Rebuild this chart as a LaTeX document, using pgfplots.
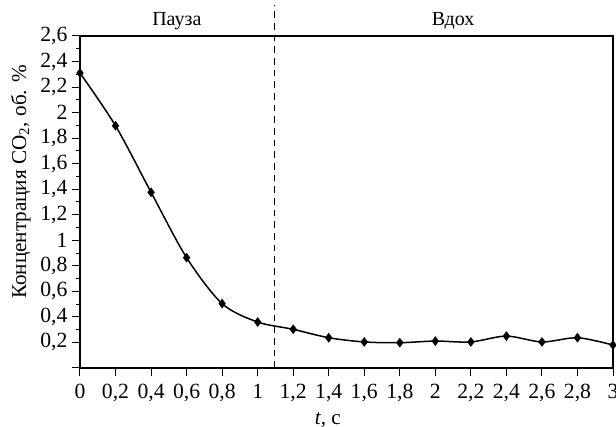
\documentclass[border=0pt]{standalone}
\usepackage{pgfplots}
\pgfplotsset{compat=1.18}
\usepackage{fontspec}
\setmainfont{Liberation Serif}
\begin{document}
\begin{tikzpicture}
\useasboundingbox (0pt,0pt) rectangle (369.6pt,-256.2pt);
\begin{axis}[
  at={(48pt,-220.8pt)}, anchor=south west,
  scale only axis, width=319.8pt, height=199.2pt,
  xmin=0, xmax=3, ymin=0, ymax=2.6,
  clip=false,
  axis line style={line width=0.7pt},
  xtick={0,0.2,...,3.01},
  ytick={0.2,0.4,...,2.61},
  extra y ticks={0}, extra y tick labels={},
  minor y tick num=1,
  tick align=outside,
  xtick pos=bottom, ytick pos=left,
  major tick length=5pt, minor tick length=2.5pt,
  tick style={line width=0.6pt, black},
  /pgf/number format/use comma,
  /pgf/number format/assume math mode=true,
  tick label style={font=\fontsize{13}{14}\selectfont},
  yticklabel style={xshift=1pt},
  xticklabel style={yshift=-1pt},
  label style={font=\fontsize{12.7}{14}\selectfont},
  xlabel={\textit{t}, с},
  xlabel style={at={(axis description cs:0.465,0)}, anchor=center, yshift=-31.2pt},
  ylabel={Концентрация CO\textsubscript{2}, об. \%},
  ylabel style={at={(axis description cs:-0.111,0.56)}, anchor=center},
]
\addplot[line width=0.9pt, black, smooth, tension=0.5, mark=diamond*, mark size=2.2pt, mark options={solid}]
coordinates {
(0,2.31) (0.2,1.897) (0.4,1.376) (0.6,0.864) (0.8,0.504) (1.0,0.36) (1.2,0.303)
(1.4,0.237) (1.6,0.204) (1.8,0.198) (2.0,0.211) (2.2,0.204) (2.4,0.25)
(2.6,0.204) (2.8,0.237) (3.0,0.18)};
\draw[dashed, line width=0.6pt, dash pattern=on 4pt off 3pt] (axis cs:1.095,0) -- (axis cs:1.095,2.84);
\node[font=\fontsize{12}{13}\selectfont] at (axis cs:0.545,2.72) {Пауза};
\node[font=\fontsize{12}{13}\selectfont] at (axis cs:2.1,2.72) {Вдох};
\end{axis}
\end{tikzpicture}
\end{document}
